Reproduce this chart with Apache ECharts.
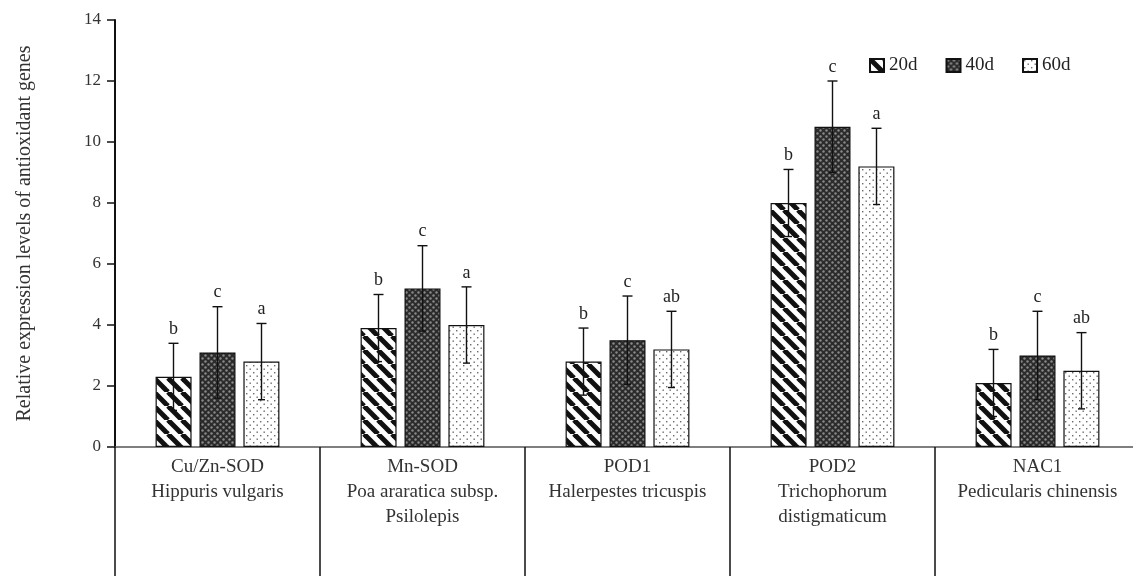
<!DOCTYPE html>
<html><head><meta charset="utf-8">
<script src="https://cdn.jsdelivr.net/npm/echarts@6/dist/echarts.min.js"></script>
<style>html,body{margin:0;padding:0;background:#fff;overflow:hidden;width:1133px;height:576px}#c{width:1140px;height:576px}</style>
</head><body><div id="c"></div>
<script>
const genes = ['Cu/Zn-SOD','Mn-SOD','POD1','POD2','NAC1'];
const species = ['Hippuris vulgaris','Poa araratica subsp.\nPsilolepis','Halerpestes tricuspis','Trichophorum\ndistigmaticum','Pedicularis chinensis'];
const seriesNames = ['20d','40d','60d'];
const values20 = [2.3, 3.9, 2.8, 8.0, 2.1];
const values40 = [3.1, 5.2, 3.5, 10.5, 3.0];
const values60 = [2.8, 4.0, 3.2, 9.2, 2.5];
const err20 = [1.1, 1.1, 1.1, 1.1, 1.1];
const err40 = [1.5, 1.4, 1.45, 1.5, 1.45];
const err60 = [1.25, 1.25, 1.25, 1.25, 1.25];
const letters20 = ['b','b','b','b','b'];
const letters40 = ['c','c','c','c','c'];
const letters60 = ['a','a','ab','a','ab'];
const yTicks = [0,2,4,6,8,10,12,14];

const FONT = '"Liberation Serif", "DejaVu Serif", serif';

function makePattern(kind){
  const cv = document.createElement('canvas');
  const ctx = cv.getContext('2d');
  if(kind===0){
    const s=14; cv.width=s; cv.height=s;
    ctx.fillStyle='#fff'; ctx.fillRect(0,0,s,s);
    ctx.strokeStyle='#111'; ctx.lineWidth=5;
    for(const x0 of [-s,0,s]){ctx.beginPath();ctx.moveTo(x0,0);ctx.lineTo(x0+s,s);ctx.stroke();}
  } else if(kind===1){
    const s=6; cv.width=s; cv.height=s;
    ctx.fillStyle='#2b2b2b'; ctx.fillRect(0,0,s,s);
    ctx.fillStyle='#8a8a8a';
    ctx.beginPath();ctx.arc(1.5,1.5,1.2,0,Math.PI*2);ctx.fill();
    ctx.beginPath();ctx.arc(4.5,4.5,1.2,0,Math.PI*2);ctx.fill();
  } else {
    const s=7; cv.width=s; cv.height=s;
    ctx.fillStyle='#fff'; ctx.fillRect(0,0,s,s);
    ctx.fillStyle='#6a6a6a';
    ctx.fillRect(1,1,1.4,1.4);
    ctx.fillRect(4.5,4.5,1.4,1.4);
  }
  return {image: cv, repeat: 'repeat'};
}

const vals = [values20, values40, values60];
const errs = [err20, err40, err60];
const lets = [letters20, letters40, letters60];
const BAR_W = 36, BAR_STEP = 44;

const series = [];
seriesNames.forEach((n,i)=>{
  series.push({
    name:n, type:'bar', barWidth:BAR_W, barGap:'22%',
    data: vals[i],
    itemStyle:{color: makePattern(i), borderColor:'#111', borderWidth:1.2},
    z:2
  });
});
seriesNames.forEach((n,i)=>{
  series.push({
    type:'custom', z:5, silent:true,
    data: vals[i].map((v,k)=>[k, v, errs[i][k]]),
    renderItem:(params, api)=>{
      const k = api.value(0), v = api.value(1), e = api.value(2);
      const letter = lets[i][params.dataIndex];
      const top = api.coord([k, v+e]);
      const bot = api.coord([k, v-e]);
      const x = top[0] + (i-1)*BAR_STEP;
      const cw = 5, cwb = 3.5;
      const st = {stroke:'#111', lineWidth:1.4};
      return {type:'group', children:[
        {type:'line', shape:{x1:x,y1:top[1],x2:x,y2:bot[1]}, style:st},
        {type:'line', shape:{x1:x-cw,y1:top[1],x2:x+cw,y2:top[1]}, style:st},
        {type:'line', shape:{x1:x-cwb,y1:bot[1],x2:x+cwb,y2:bot[1]}, style:st},
        {type:'text', style:{text:letter, x:x, y:top[1]-5, textAlign:'center', textVerticalAlign:'bottom', font:'18px '+FONT, fill:'#222'}}
      ]};
    }
  });
});

const chart = echarts.init(document.getElementById('c'), null, {renderer:'canvas'});
chart.setOption({
  animation:false,
  backgroundColor:'#fff',
  textStyle:{fontFamily:FONT},
  legend:{
    data: seriesNames, left:864, top:51, itemWidth:14, itemHeight:13, itemGap:28,
    icon:'rect',
    textStyle:{fontFamily:FONT, fontSize:19, color:'#222'}
  },
  grid:{left:115, top:20, right:0, bottom:129, containLabel:false},
  xAxis:{
    type:'category', data: genes.map((g,k)=>g+'\n'+species[k]),
    axisLine:{lineStyle:{color:'#555', width:1.5}},
    axisTick:{show:true, interval:0, length:129, lineStyle:{color:'#111', width:1.5}},
    axisLabel:{interval:0, margin:8, fontFamily:FONT, fontSize:19, color:'#333', lineHeight:25, align:'center'}
  },
  yAxis:{
    type:'value', min:0, max:14, interval:2,
    name:'Relative expression levels of antioxidant genes',
    nameLocation:'middle', nameGap:80,
    nameTextStyle:{fontFamily:FONT, fontSize:20, color:'#333'},
    axisLine:{show:true, lineStyle:{color:'#111', width:2}},
    axisTick:{show:true, length:8, lineStyle:{color:'#111', width:1.5}},
    axisLabel:{fontFamily:FONT, fontSize:17, color:'#333', margin:14,
      formatter:(v)=> yTicks.includes(v) ? String(v) : ''},
    splitLine:{show:false}
  },
  series: series
});
</script></body></html>
